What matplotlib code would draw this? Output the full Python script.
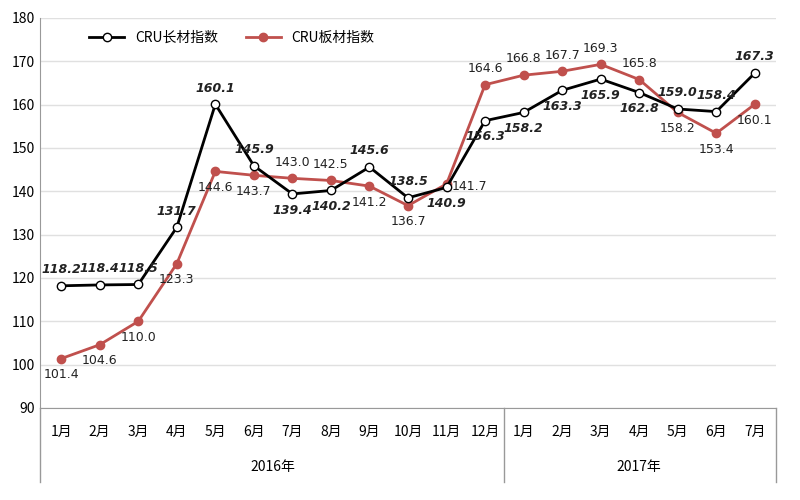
import matplotlib
matplotlib.use("Agg")
import matplotlib.pyplot as plt

plt.rcParams['font.family'] = ['Noto Sans CJK SC', 'DejaVu Sans']

months = ["1月","2月","3月","4月","5月","6月","7月","8月","9月","10月","11月","12月","1月","2月","3月","4月","5月","6月","7月"]
years = ["2016年", "2017年"]
long_idx = [118.2,118.4,118.5,131.7,160.1,145.9,139.4,140.2,145.6,138.5,140.9,156.3,158.2,163.3,165.9,162.8,159.0,158.4,167.3]
plate_idx = [101.4,104.6,110.0,123.3,144.6,143.7,143.0,142.5,141.2,136.7,141.7,164.6,166.8,167.7,169.3,165.8,158.2,153.4,160.1]

long_pos = ['a','a','a','a','a','a','b','b','a','a','b','b','b','b','b','b','a','a','a']
plate_pos = ['b','b','b','b','b','b','a','a','b','b','r','a','a','a','a','a','b','b','b']

fig = plt.figure(figsize=(8,5), dpi=100)
ax = fig.add_axes([0.05, 0.184, 0.92, 0.78])
x = list(range(len(months)))
red = '#c0504d'
l2, = ax.plot(x, plate_idx, color=red, lw=2, marker='o', ms=6, mfc=red, mec=red, label='CRU板材指数', zorder=2)
l1, = ax.plot(x, long_idx, color='black', lw=2, marker='o', ms=6, mfc='white', mec='black', label='CRU长材指数', zorder=3)

def off(p):
    return {'a': (0, 7, 'center', 'bottom'), 'b': (0, -7, 'center', 'top'),
            'r': (4, -2, 'left', 'center')}[p]

for i, v in enumerate(long_idx):
    dx, dy, ha, va = off(long_pos[i])
    ax.annotate(f"{v:.1f}", (i, v), xytext=(dx, dy), textcoords='offset points',
                ha=ha, va=va, fontsize=9, fontweight='bold', style='italic', color='#222222',
                family='DejaVu Sans')
for i, v in enumerate(plate_idx):
    dx, dy, ha, va = off(plate_pos[i])
    ax.annotate(f"{v:.1f}", (i, v), xytext=(dx, dy), textcoords='offset points',
                ha=ha, va=va, fontsize=9, color='#222222', family='DejaVu Sans')

ax.set_ylim(90, 180)
ax.set_yticks(range(90, 181, 10))
ax.set_xlim(-0.55, len(months) - 0.45)
ax.set_xticks(x)
ax.set_xticklabels(months, fontsize=10)
ax.tick_params(axis='x', length=0, pad=12)
ax.tick_params(axis='y', length=0, labelsize=10)
ax.grid(axis='y', color='#e0e0e0', lw=1)
for s in ['top', 'right']:
    ax.spines[s].set_visible(False)
ax.spines['left'].set_color('#999999')
ax.spines['bottom'].set_color('#999999')

trans = ax.get_xaxis_transform()
for xv in [-0.55, 11.5, len(months) - 0.45]:
    ax.plot([xv, xv], [0, -0.19], transform=trans, color='#999999', lw=1, clip_on=False)
ax.text(5.5, -0.15, years[0], transform=trans, ha='center', va='center', fontsize=10)
ax.text(15, -0.15, years[1], transform=trans, ha='center', va='center', fontsize=10)

ax.legend(handles=[l1, l2], loc='upper left', bbox_to_anchor=(0.05, 1.0), ncol=2, frameon=False, fontsize=10, handlelength=2.5)
fig.savefig('out.png', dpi=100)
